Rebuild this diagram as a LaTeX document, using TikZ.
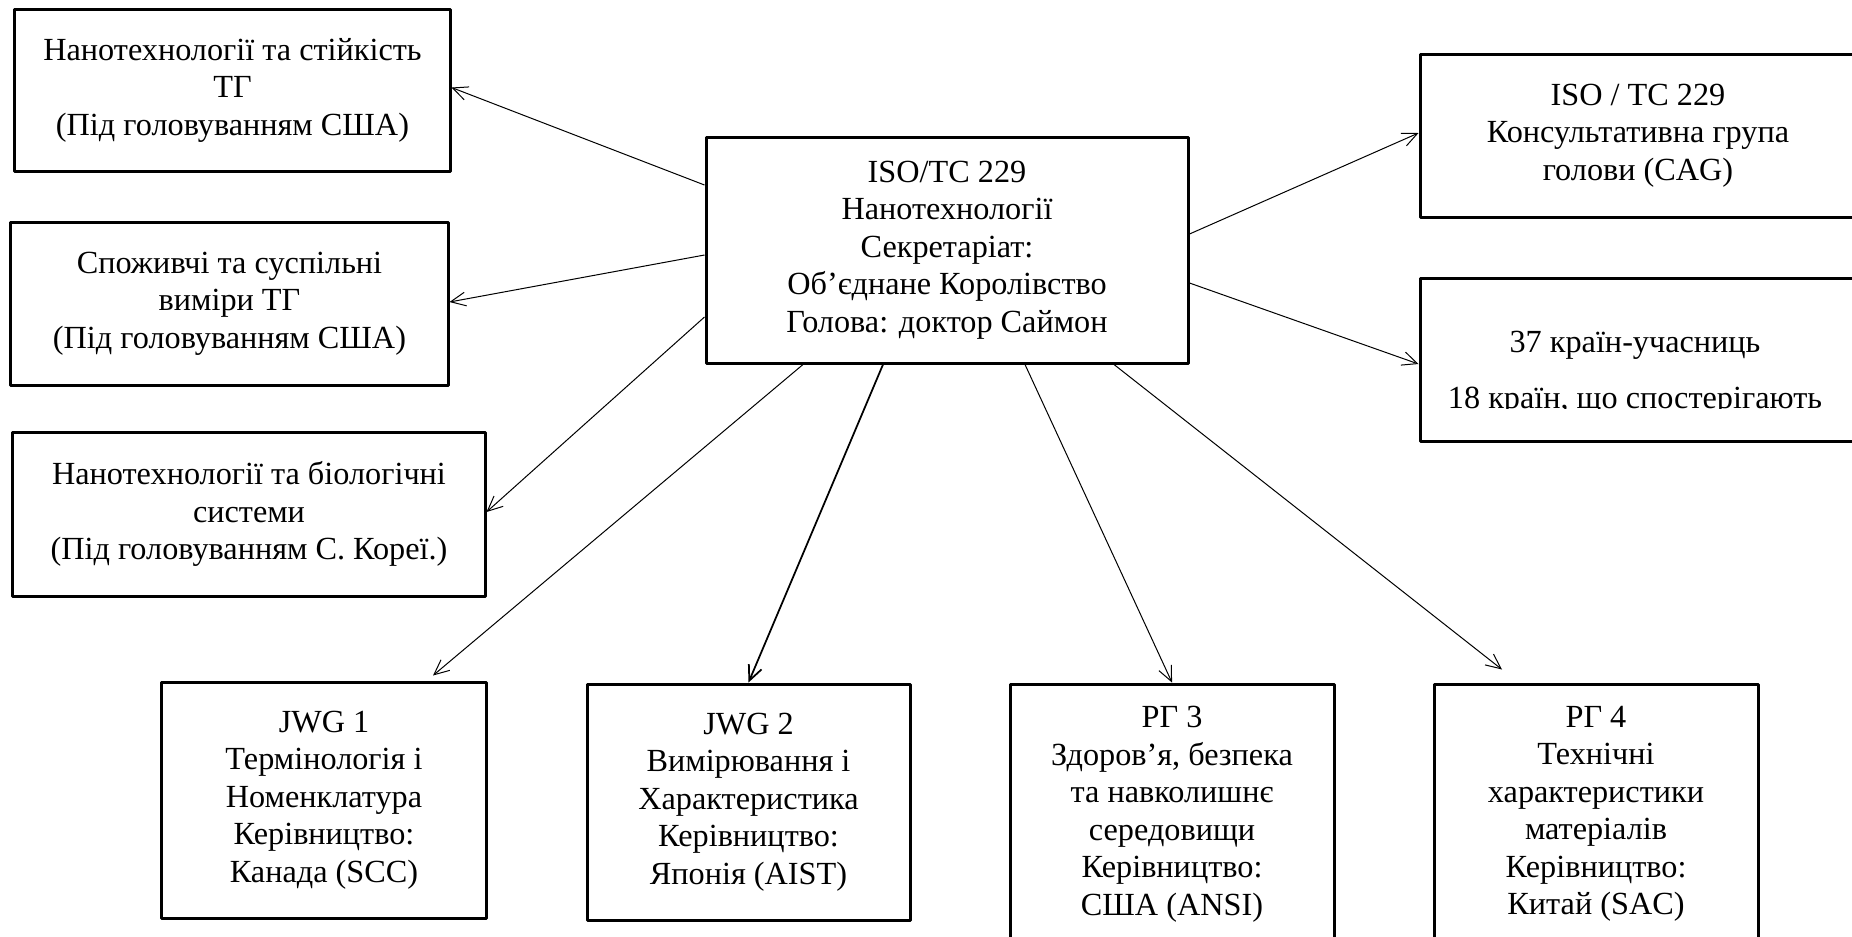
\documentclass[tikz,border=0pt]{standalone}
\usepackage{fontspec}
\setmainfont{Liberation Serif}
\usetikzlibrary{arrows.meta}

\begin{document}
\begin{tikzpicture}[x=0.4pt,y=-0.4pt,font=\fontsize{12.9}{15}\selectfont,line join=round,
  >={Straight Barb[length=6pt,width=5.5pt]},
  box/.style={draw,line width=1.2pt,align=center,inner sep=0pt},
  arr/.style={->,line width=0.4pt}]
\useasboundingbox (0,0) rectangle (1852,936);
% task groups on the left
\node[box,minimum width=174pt,minimum height=64.8pt] (tgA) at (232.5,90) {Нанотехнології та стійкість\\ТГ\\(Під головуванням США)};
\node[box,minimum width=174.8pt,minimum height=65.2pt] (tgB) at (229.5,303.5) {Споживчі та суспільні\\виміри ТГ\\(Під головуванням США)};
\node[box,minimum width=188.8pt,minimum height=65.6pt] (tgC) at (249,514) {Нанотехнології та біологічні\\системи\\(Під головуванням С. Кореї.)};
% committee
\node[box,minimum width=192.8pt,minimum height=90.4pt] (tc) at (947,250) {ISO/TC 229\\Нанотехнології\\Секретаріат:\\Об’єднане Королівство\\Голова: доктор Саймон};
% right side
\node[box,minimum width=174.4pt,minimum height=65.2pt] (cag) at (1638,135.5) {ISO / TC 229\\Консультативна група\\голови (CAG)};
\node[box,minimum width=174.4pt,minimum height=65.2pt] (cnt) at (1638,359.5) {};
\begin{scope}
\clip (1420,278) rectangle (1856,408);
\node[anchor=base] (cntA) at (1635,352) {37 країн-учасниць};
\node[anchor=base] (cntB) at (1635,408) {18 країн, що спостерігають};
\end{scope}
% working groups
\node[box,minimum width=129.6pt,minimum height=94.4pt] (jwgA) at (324,800) {JWG 1\\Термінологія і\\Номенклатура\\Керівництво:\\Канада (SCC)};
\node[box,minimum width=129.2pt,minimum height=94.4pt] (jwgB) at (748.5,802) {JWG 2\\Вимірювання і\\Характеристика\\Керівництво:\\Японія (AIST)};
\node[box,minimum width=129.6pt,minimum height=104pt] (rgC) at (1172,814) {РГ 3\\Здоров’я, безпека\\та навколишнє\\середовищи\\Керівництво:\\США (ANSI)};
\node[box,minimum width=129.6pt,minimum height=104pt] (rgD) at (1596,814) {РГ 4\\Технічні\\характеристики\\матеріалів\\Керівництво:\\Китай (SAC)};
% arrows
\draw[arr] ([yshift=26pt]tc.west) -- ([yshift=1pt]tgA.east);
\draw[arr] ([yshift=-2pt]tc.west) -- ([yshift=0.6pt]tgB.east);
\draw[arr] ([yshift=-26.8pt]tc.west) -- ([yshift=0.8pt]tgC.east);
\draw[arr] ([xshift=-57.6pt]tc.south) -- ([xshift=43.6pt,yshift=2pt]jwgA.north);
\draw[arr,line width=0.7pt] ([xshift=-25.6pt]tc.south) -- (jwgB.north);
\draw[arr] ([xshift=31.2pt]tc.south) -- (rgC.north);
\draw[arr] ([xshift=66.8pt]tc.south) -- ([xshift=-37.6pt,yshift=5.2pt]rgD.north);
\draw[arr] ([yshift=6.4pt]tc.east) -- ([yshift=1pt]cag.west);
\draw[arr] ([yshift=-13.2pt]tc.east) -- ([yshift=-1.8pt]cnt.west);
\end{tikzpicture}
\end{document}
